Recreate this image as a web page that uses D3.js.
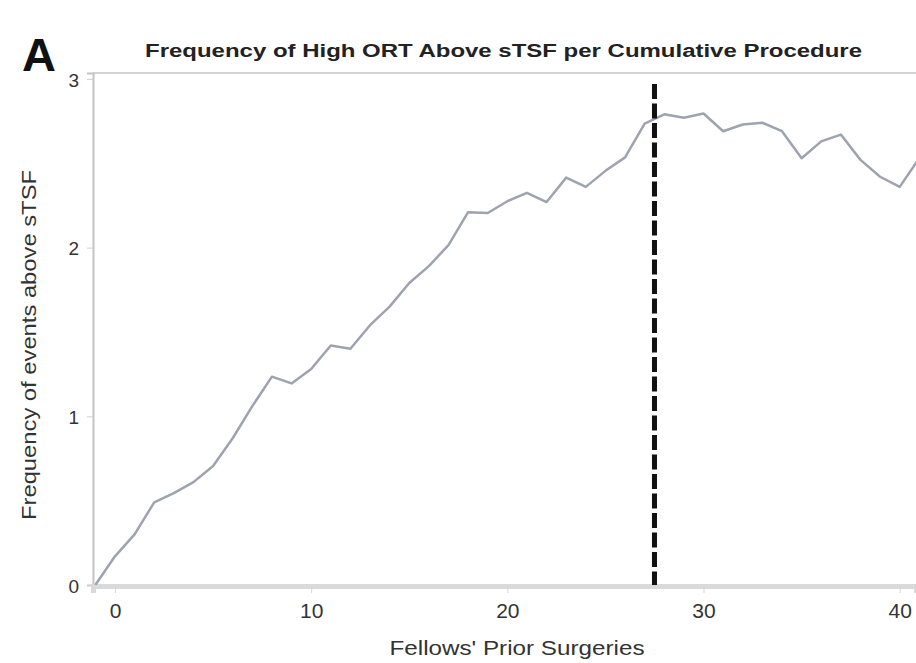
<!DOCTYPE html>
<html>
<head>
<meta charset="utf-8">
<script src="https://cdn.jsdelivr.net/npm/d3@7"></script>
<style>
    body { margin: 0; background: #fff; }
    svg { display: block; font-family: "Liberation Sans", Arial, sans-serif; }
</style>
</head>
<body>
<div id="chart"></div>
<script>

// data
let surgeries = [-1, 0, 1, 2, 3, 4, 5, 6, 7, 8, 9, 10, 11, 12, 13, 14, 15, 16, 17, 18, 19, 20,
    21, 22, 23, 24, 25, 26, 27, 28, 29, 30, 31, 32, 33, 34, 35, 36, 37, 38, 39, 40, 41];
let frequency = [0, 0.17, 0.30, 0.49, 0.545, 0.61, 0.705, 0.87, 1.06, 1.235, 1.195, 1.28, 1.42, 1.40,
    1.54, 1.65, 1.79, 1.89, 2.015, 2.21, 2.205, 2.275, 2.325, 2.27, 2.415, 2.36, 2.455, 2.535,
    2.735, 2.79, 2.77, 2.795, 2.69, 2.73, 2.74, 2.69, 2.53, 2.63, 2.67, 2.52, 2.42, 2.36, 2.53];
let cutoff = 27.5;
let xTicks = [0, 10, 20, 30, 40];
let yTicks = [0, 1, 2, 3];

let title = "Frequency of High ORT Above sTSF per Cumulative Procedure";
let xLabel = "Fellows' Prior Surgeries";
let yLabel = "Frequency of events above sTSF";

let width = 916, height = 663;
let margin = {top: 73, right: 0, bottom: 78, left: 93};

let svg = d3.select("#chart").append("svg")
    .attr("width", width)
    .attr("height", height);

let x = d3.scaleLinear()
    .domain([-1.12, 40.83])
    .range([margin.left, width - margin.right]);

let y = d3.scaleLinear()
    .domain([0, 3.035])
    .range([height - margin.bottom, margin.top]);

svg.append("clipPath").attr("id", "plot-clip")
    .append("rect")
    .attr("x", margin.left)
    .attr("y", margin.top)
    .attr("width", width - margin.left - margin.right)
    .attr("height", height - margin.top - margin.bottom);

// top border
svg.append("line")
    .attr("x1", margin.left).attr("x2", width)
    .attr("y1", margin.top).attr("y2", margin.top)
    .attr("stroke", "#c4c4c4")
    .attr("stroke-width", 1.5);

// y axis
let yAxis = svg.append("g")
    .attr("transform", `translate(${margin.left},0)`)
    .call(d3.axisLeft(y).tickValues(yTicks).tickSize(6).tickPadding(8).tickFormat(d3.format("d")));
yAxis.select(".domain").attr("stroke", "#c4c4c4").attr("stroke-width", 2);
yAxis.selectAll(".tick line").attr("stroke", "#d0d0d0");
yAxis.selectAll(".tick text")
    .attr("fill", "#333")
    .attr("dy", "0.38em")
    .style("font-size", "19px");

// x axis
let xAxis = svg.append("g")
    .attr("transform", `translate(0,${height - margin.bottom + 1})`)
    .call(d3.axisBottom(x).tickValues(xTicks).tickSize(7).tickPadding(10).tickFormat(d3.format("d")));
xAxis.select(".domain").attr("stroke", "#dadada").attr("stroke-width", 5);
xAxis.selectAll(".tick line").attr("stroke", "#d6d6d6");
xAxis.selectAll(".tick text")
    .attr("fill", "#333")
    .style("font-size", "21px");

// series
let line = d3.line()
    .x((d, i) => x(surgeries[i]))
    .y(d => y(d));

svg.append("path")
    .datum(frequency)
    .attr("clip-path", "url(#plot-clip)")
    .attr("fill", "none")
    .attr("stroke", "#9ea3ad")
    .attr("stroke-width", 2.5)
    .attr("stroke-linejoin", "round")
    .attr("d", line);

// cut-off line
svg.append("line")
    .attr("x1", x(cutoff)).attr("x2", x(cutoff))
    .attr("y1", y(2.97)).attr("y2", y(0))
    .attr("stroke", "#111")
    .attr("stroke-width", 5)
    .attr("stroke-dasharray", "15,4.5");

// titles
svg.append("text")
    .attr("x", 22)
    .attr("y", 71)
    .style("font-size", "47px")
    .style("font-weight", "bold")
    .attr("fill", "#111")
    .text("A");

svg.append("text")
    .attr("x", 145)
    .attr("y", 57)
    .attr("textLength", 717)
    .attr("lengthAdjust", "spacingAndGlyphs")
    .style("font-size", "18px")
    .style("font-weight", "bold")
    .attr("fill", "#222")
    .text(title);

svg.append("text")
    .attr("x", 517)
    .attr("y", 655)
    .attr("text-anchor", "middle")
    .attr("textLength", 255)
    .attr("lengthAdjust", "spacingAndGlyphs")
    .style("font-size", "21px")
    .attr("fill", "#333")
    .text(xLabel);

svg.append("text")
    .attr("transform", `translate(36,345) rotate(-90)`)
    .attr("text-anchor", "middle")
    .attr("textLength", 350)
    .attr("lengthAdjust", "spacingAndGlyphs")
    .style("font-size", "21px")
    .attr("fill", "#333")
    .text(yLabel);

</script>
</body>
</html>
